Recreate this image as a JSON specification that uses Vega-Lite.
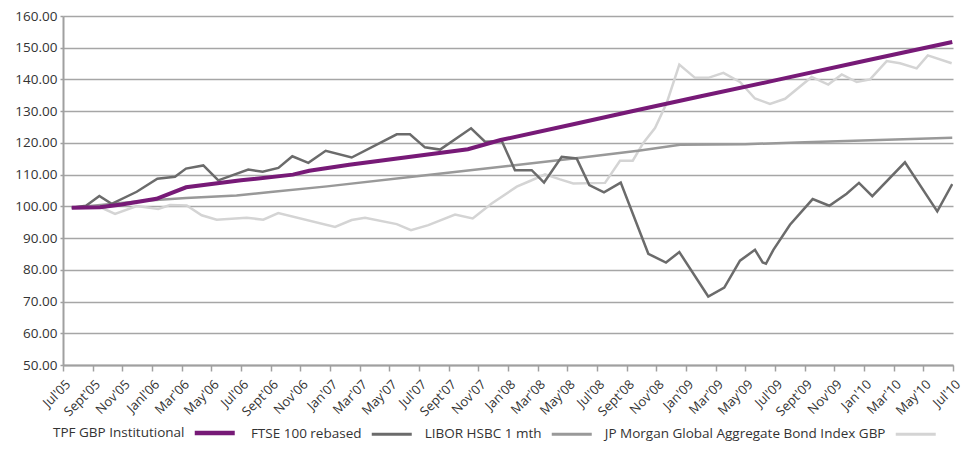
{
  "$schema": "https://vega.github.io/schema/vega-lite/v6.json",
  "width": 890,
  "height": 349,
  "autosize": {"type": "none"},
  "padding": {"left": 63, "top": 16, "right": 16, "bottom": 86},
  "background": "white",
  "config": {
    "view": {"stroke": null},
    "font": "Open Sans",
    "axis": {"labelFont": "Open Sans", "labelColor": "#333333"},
    "legend": {"labelFont": "Open Sans"}
  },
  "data": {"values": [
    {"s":"JP Morgan Global Aggregate Bond Index GBP","m":0.59,"v":99.6},
    {"s":"JP Morgan Global Aggregate Bond Index GBP","m":2.49,"v":99.8},
    {"s":"JP Morgan Global Aggregate Bond Index GBP","m":3.51,"v":97.6},
    {"s":"JP Morgan Global Aggregate Bond Index GBP","m":4.97,"v":100.1},
    {"s":"JP Morgan Global Aggregate Bond Index GBP","m":6.42,"v":99.2},
    {"s":"JP Morgan Global Aggregate Bond Index GBP","m":7.21,"v":100.4},
    {"s":"JP Morgan Global Aggregate Bond Index GBP","m":8.34,"v":100.25},
    {"s":"JP Morgan Global Aggregate Bond Index GBP","m":9.35,"v":97.2},
    {"s":"JP Morgan Global Aggregate Bond Index GBP","m":10.36,"v":95.8},
    {"s":"JP Morgan Global Aggregate Bond Index GBP","m":12.38,"v":96.4},
    {"s":"JP Morgan Global Aggregate Bond Index GBP","m":13.5,"v":95.8},
    {"s":"JP Morgan Global Aggregate Bond Index GBP","m":14.51,"v":97.9},
    {"s":"JP Morgan Global Aggregate Bond Index GBP","m":18.34,"v":93.5},
    {"s":"JP Morgan Global Aggregate Bond Index GBP","m":19.46,"v":95.7},
    {"s":"JP Morgan Global Aggregate Bond Index GBP","m":20.36,"v":96.4},
    {"s":"JP Morgan Global Aggregate Bond Index GBP","m":22.5,"v":94.4},
    {"s":"JP Morgan Global Aggregate Bond Index GBP","m":23.46,"v":92.5},
    {"s":"JP Morgan Global Aggregate Bond Index GBP","m":24.63,"v":94.1},
    {"s":"JP Morgan Global Aggregate Bond Index GBP","m":26.43,"v":97.4},
    {"s":"JP Morgan Global Aggregate Bond Index GBP","m":27.62,"v":96.2},
    {"s":"JP Morgan Global Aggregate Bond Index GBP","m":28.9,"v":100.9},
    {"s":"JP Morgan Global Aggregate Bond Index GBP","m":30.59,"v":106.2},
    {"s":"JP Morgan Global Aggregate Bond Index GBP","m":31.48,"v":108.0},
    {"s":"JP Morgan Global Aggregate Bond Index GBP","m":32.5,"v":110.1},
    {"s":"JP Morgan Global Aggregate Bond Index GBP","m":33.51,"v":108.5},
    {"s":"JP Morgan Global Aggregate Bond Index GBP","m":34.4,"v":107.2},
    {"s":"JP Morgan Global Aggregate Bond Index GBP","m":36.54,"v":107.4},
    {"s":"JP Morgan Global Aggregate Bond Index GBP","m":37.55,"v":114.4},
    {"s":"JP Morgan Global Aggregate Bond Index GBP","m":38.41,"v":114.4},
    {"s":"JP Morgan Global Aggregate Bond Index GBP","m":39.12,"v":120.0},
    {"s":"JP Morgan Global Aggregate Bond Index GBP","m":39.91,"v":124.7},
    {"s":"JP Morgan Global Aggregate Bond Index GBP","m":40.7,"v":132.6},
    {"s":"JP Morgan Global Aggregate Bond Index GBP","m":41.55,"v":144.7},
    {"s":"JP Morgan Global Aggregate Bond Index GBP","m":42.61,"v":140.5},
    {"s":"JP Morgan Global Aggregate Bond Index GBP","m":43.5,"v":140.5},
    {"s":"JP Morgan Global Aggregate Bond Index GBP","m":44.52,"v":142.1},
    {"s":"JP Morgan Global Aggregate Bond Index GBP","m":45.64,"v":139.2},
    {"s":"JP Morgan Global Aggregate Bond Index GBP","m":46.65,"v":134.0},
    {"s":"JP Morgan Global Aggregate Bond Index GBP","m":47.66,"v":132.3},
    {"s":"JP Morgan Global Aggregate Bond Index GBP","m":48.68,"v":133.9},
    {"s":"JP Morgan Global Aggregate Bond Index GBP","m":50.47,"v":140.8},
    {"s":"JP Morgan Global Aggregate Bond Index GBP","m":51.59,"v":138.4},
    {"s":"JP Morgan Global Aggregate Bond Index GBP","m":52.5,"v":141.6},
    {"s":"JP Morgan Global Aggregate Bond Index GBP","m":53.51,"v":139.2},
    {"s":"JP Morgan Global Aggregate Bond Index GBP","m":54.41,"v":140.0},
    {"s":"JP Morgan Global Aggregate Bond Index GBP","m":55.53,"v":145.8},
    {"s":"JP Morgan Global Aggregate Bond Index GBP","m":56.43,"v":145.1},
    {"s":"JP Morgan Global Aggregate Bond Index GBP","m":57.55,"v":143.5},
    {"s":"JP Morgan Global Aggregate Bond Index GBP","m":58.3,"v":147.6},
    {"s":"JP Morgan Global Aggregate Bond Index GBP","m":59.91,"v":145.1},
    {"s":"LIBOR HSBC 1 mth","m":0.59,"v":99.6},
    {"s":"LIBOR HSBC 1 mth","m":3.4,"v":100.8},
    {"s":"LIBOR HSBC 1 mth","m":5.5,"v":101.8},
    {"s":"LIBOR HSBC 1 mth","m":8.3,"v":102.6},
    {"s":"LIBOR HSBC 1 mth","m":11.7,"v":103.4},
    {"s":"LIBOR HSBC 1 mth","m":14.0,"v":104.5},
    {"s":"LIBOR HSBC 1 mth","m":17.8,"v":106.3},
    {"s":"LIBOR HSBC 1 mth","m":24.0,"v":109.6},
    {"s":"LIBOR HSBC 1 mth","m":30.0,"v":112.7},
    {"s":"LIBOR HSBC 1 mth","m":35.0,"v":115.4},
    {"s":"LIBOR HSBC 1 mth","m":38.9,"v":117.6},
    {"s":"LIBOR HSBC 1 mth","m":41.6,"v":119.4},
    {"s":"LIBOR HSBC 1 mth","m":46.0,"v":119.6},
    {"s":"LIBOR HSBC 1 mth","m":50.0,"v":120.2},
    {"s":"LIBOR HSBC 1 mth","m":55.0,"v":120.9},
    {"s":"LIBOR HSBC 1 mth","m":59.95,"v":121.6},
    {"s":"FTSE 100 rebased","m":0.59,"v":99.6},
    {"s":"FTSE 100 rebased","m":1.55,"v":100.2},
    {"s":"FTSE 100 rebased","m":2.45,"v":103.3},
    {"s":"FTSE 100 rebased","m":3.28,"v":100.8},
    {"s":"FTSE 100 rebased","m":4.97,"v":104.6},
    {"s":"FTSE 100 rebased","m":6.36,"v":108.7},
    {"s":"FTSE 100 rebased","m":7.55,"v":109.3},
    {"s":"FTSE 100 rebased","m":8.29,"v":111.9},
    {"s":"FTSE 100 rebased","m":9.46,"v":112.9},
    {"s":"FTSE 100 rebased","m":10.47,"v":108.2},
    {"s":"FTSE 100 rebased","m":12.49,"v":111.6},
    {"s":"FTSE 100 rebased","m":13.46,"v":110.9},
    {"s":"FTSE 100 rebased","m":14.52,"v":112.1},
    {"s":"FTSE 100 rebased","m":15.46,"v":115.8},
    {"s":"FTSE 100 rebased","m":16.54,"v":113.7},
    {"s":"FTSE 100 rebased","m":17.71,"v":117.5},
    {"s":"FTSE 100 rebased","m":19.46,"v":115.4},
    {"s":"FTSE 100 rebased","m":22.5,"v":122.7},
    {"s":"FTSE 100 rebased","m":23.39,"v":122.7},
    {"s":"FTSE 100 rebased","m":24.4,"v":118.6},
    {"s":"FTSE 100 rebased","m":25.42,"v":117.9},
    {"s":"FTSE 100 rebased","m":27.51,"v":124.6},
    {"s":"FTSE 100 rebased","m":28.45,"v":120.4},
    {"s":"FTSE 100 rebased","m":29.58,"v":120.6},
    {"s":"FTSE 100 rebased","m":30.47,"v":111.4},
    {"s":"FTSE 100 rebased","m":31.6,"v":111.4},
    {"s":"FTSE 100 rebased","m":32.43,"v":107.5},
    {"s":"FTSE 100 rebased","m":33.62,"v":115.6},
    {"s":"FTSE 100 rebased","m":34.63,"v":115.1},
    {"s":"FTSE 100 rebased","m":35.48,"v":106.7},
    {"s":"FTSE 100 rebased","m":36.47,"v":104.4},
    {"s":"FTSE 100 rebased","m":37.6,"v":107.5},
    {"s":"FTSE 100 rebased","m":39.46,"v":85.05},
    {"s":"FTSE 100 rebased","m":40.65,"v":82.3},
    {"s":"FTSE 100 rebased","m":41.55,"v":85.6},
    {"s":"FTSE 100 rebased","m":43.5,"v":71.6},
    {"s":"FTSE 100 rebased","m":44.58,"v":74.4},
    {"s":"FTSE 100 rebased","m":45.64,"v":82.9},
    {"s":"FTSE 100 rebased","m":46.65,"v":86.3},
    {"s":"FTSE 100 rebased","m":47.17,"v":82.3},
    {"s":"FTSE 100 rebased","m":47.39,"v":81.9},
    {"s":"FTSE 100 rebased","m":47.89,"v":86.3},
    {"s":"FTSE 100 rebased","m":49.01,"v":94.2},
    {"s":"FTSE 100 rebased","m":50.54,"v":102.3},
    {"s":"FTSE 100 rebased","m":51.66,"v":100.2},
    {"s":"FTSE 100 rebased","m":52.83,"v":104.0},
    {"s":"FTSE 100 rebased","m":53.66,"v":107.4},
    {"s":"FTSE 100 rebased","m":54.56,"v":103.2},
    {"s":"FTSE 100 rebased","m":56.76,"v":113.9},
    {"s":"FTSE 100 rebased","m":58.94,"v":98.4},
    {"s":"FTSE 100 rebased","m":59.95,"v":107.05},
    {"s":"TPF GBP Institutional","m":0.59,"v":99.6},
    {"s":"TPF GBP Institutional","m":2.5,"v":99.7},
    {"s":"TPF GBP Institutional","m":3.95,"v":100.6},
    {"s":"TPF GBP Institutional","m":6.3,"v":102.4},
    {"s":"TPF GBP Institutional","m":8.3,"v":106.0},
    {"s":"TPF GBP Institutional","m":12.0,"v":108.2},
    {"s":"TPF GBP Institutional","m":15.5,"v":110.0},
    {"s":"TPF GBP Institutional","m":16.6,"v":111.2},
    {"s":"TPF GBP Institutional","m":19.3,"v":113.1},
    {"s":"TPF GBP Institutional","m":27.3,"v":118.0},
    {"s":"TPF GBP Institutional","m":29.5,"v":120.9},
    {"s":"TPF GBP Institutional","m":34.4,"v":125.9},
    {"s":"TPF GBP Institutional","m":38.2,"v":129.8},
    {"s":"TPF GBP Institutional","m":43.0,"v":134.7},
    {"s":"TPF GBP Institutional","m":48.0,"v":139.7},
    {"s":"TPF GBP Institutional","m":54.0,"v":145.8},
    {"s":"TPF GBP Institutional","m":59.95,"v":151.8}
  ]},
  "mark": {"type": "line", "strokeJoin": "miter", "clip": true},
  "encoding": {
    "x": {
      "field": "m", "type": "quantitative",
      "scale": {"domain": [0, 60], "nice": false, "zero": false},
      "axis": {
        "title": null,
        "values": [0,2,4,6,8,10,12,14,16,18,20,22,24,26,28,30,32,34,36,38,40,42,44,46,48,50,52,54,56,58,60],
        "labelExpr": "[\"Jul'05\",\"Sept'05\",\"Nov'05\",\"Janl'06\",\"Mar'06\",\"May'06\",\"Jul'06\",\"Sept'06\",\"Nov'06\",\"Jan'07\",\"Mar'07\",\"May'07\",\"Jul'07\",\"Sept'07\",\"Nov'07\",\"Jan'08\",\"Mar'08\",\"May'08\",\"Jul'08\",\"Sept'08\",\"Nov'08\",\"Jan'09\",\"Mar'09\",\"May'09\",\"Jul'09\",\"Sept'09\",\"Nov'09\",\"Jan'10\",\"Mar'10\",\"May'10\",\"Jul'10\"][round(datum.value/2)]",
        "labelAngle": -45,
        "labelAlign": "right",
        "labelBaseline": "middle",
        "labelFontSize": 13,
        "labelPadding": 11,
        "labelOffset": 5,
        "labelOverlap": false,
        "labelBound": false,
        "labelFlush": false,
        "grid": false,
        "domainColor": "#a0a0a0",
        "domainWidth": 2,
        "tickColor": "#a0a0a0",
        "tickWidth": 1.5,
        "tickSize": 6
      }
    },
    "y": {
      "field": "v", "type": "quantitative",
      "scale": {"domain": [50, 160], "nice": false, "zero": false},
      "axis": {
        "title": null,
        "values": [50,60,70,80,90,100,110,120,130,140,150,160],
        "format": ".2f",
        "labelFontSize": 13.5,
        "labelPadding": 3,
        "grid": true,
        "gridColor": "#a6a6a6",
        "gridWidth": 1.3,
        "domainColor": "#a0a0a0",
        "domainWidth": 2,
        "tickColor": "#a0a0a0",
        "tickSize": 3,
        "tickWidth": 1.5
      }
    },
    "color": {
      "field": "s", "type": "nominal",
      "scale": {
        "domain": ["TPF GBP Institutional", "FTSE 100 rebased", "LIBOR HSBC 1 mth", "JP Morgan Global Aggregate Bond Index GBP"],
        "range": ["#771a77", "#6b6b6b", "#999999", "#d4d4d4"]
      },
      "legend": {
        "title": null,
        "orient": "none",
        "legendX": 145,
        "legendY": 410,
        "direction": "horizontal",
        "symbolType": "stroke",
        "symbolSize": 1600,
        "symbolStrokeWidth": 3,
        "labelFontSize": 13.5,
        "labelColor": "#333333",
        "labelLimit": 400,
        "labelAlign": "right",
        "labelOffset": -37,
        "columnPadding": 6,
        "encode": {
          "symbols": {"update": {"strokeWidth": {"signal": "datum.value === 'TPF GBP Institutional' ? 4.5 : 3"}}}
        }
      }
    },
    "strokeWidth": {
      "condition": {"test": "datum.s === 'TPF GBP Institutional'", "value": 4},
      "value": 2.5
    }
  }
}
